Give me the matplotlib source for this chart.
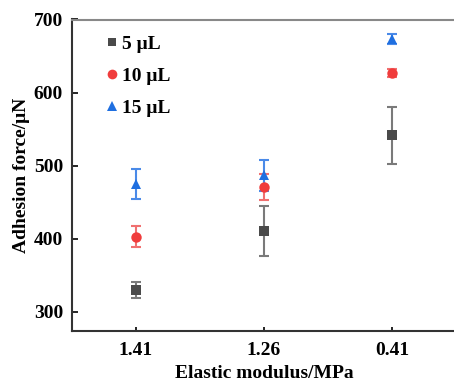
import matplotlib
matplotlib.use("Agg")
import matplotlib.pyplot as plt
from matplotlib.lines import Line2D
import numpy as np

categories = ["1.41", "1.26", "0.41"]
series_names = ["5 μL", "10 μL", "15 μL"]
vals_5 = [330, 411, 542]
err_5 = [11, 34, 39]
vals_10 = [403, 471, 627]
err_10 = [14, 18, 5]
vals_15 = [475, 487, 673]
err_15 = [20, 21, 7]

plt.rcParams['font.family'] = ['Liberation Serif', 'DejaVu Serif']
plt.rcParams['font.weight'] = 'bold'

fig = plt.figure(figsize=(4.54, 3.82), dpi=100)
ax = fig.add_axes([72/454, 1 - 331/382, (456-72)/454, (331-19.5)/382])

x = np.arange(len(categories))
styles = [
    (vals_5, err_5, 's', '#4a4a4a', '#7a7a7a', 6.5),
    (vals_10, err_10, 'o', '#f03c3c', '#f07070', 7.5),
    (vals_15, err_15, '^', '#1f6fe0', '#4a8ae8', 7.5),
]
handles = []
for (v, e, m, c, ec, ms), name in zip(styles, series_names):
    ax.errorbar(x, v, yerr=e, fmt='none', ecolor=ec,
                elinewidth=1.5, capsize=3.5, capthick=1.5, zorder=2)
    ax.plot(x, v, linestyle='none', marker=m, color=c, markersize=ms,
            markeredgewidth=0, zorder=3)
    handles.append(Line2D([], [], linestyle='none', marker=m, color=c,
                          markersize=ms - 0.5, markeredgewidth=0, label=name))

ax.set_xlim(-0.5, 2.5)
ax.set_ylim(274, 700)
ax.set_xticks(x)
ax.set_xticklabels(categories)
ax.set_yticks([300, 400, 500, 600, 700])
ax.tick_params(axis='x', direction='in', length=3, width=1.2, labelsize=14, pad=8)
ax.tick_params(axis='y', direction='in', length=4, width=1.2, labelsize=14, pad=6.5)
for lab in ax.get_xticklabels() + ax.get_yticklabels():
    lab.set_fontweight('bold')

ax.spines['left'].set_color('#333333')
ax.spines['bottom'].set_color('#333333')
ax.spines['top'].set_color('#888888')
ax.spines['right'].set_visible(False)
for s in ax.spines.values():
    s.set_linewidth(1.5)

ax.set_ylabel("Adhesion force/μN", fontsize=14, fontweight='bold', labelpad=3)
ax.set_xlabel("Elastic modulus/MPa", fontsize=14, fontweight='bold', labelpad=4)

leg = ax.legend(handles=handles, loc='upper left', frameon=False,
                prop={'size': 14, 'weight': 'bold'},
                handlelength=0.5, handletextpad=0.3, labelspacing=0.75,
                borderaxespad=0, bbox_to_anchor=(0.07, 0.975))

fig.savefig("out.png", dpi=100)
